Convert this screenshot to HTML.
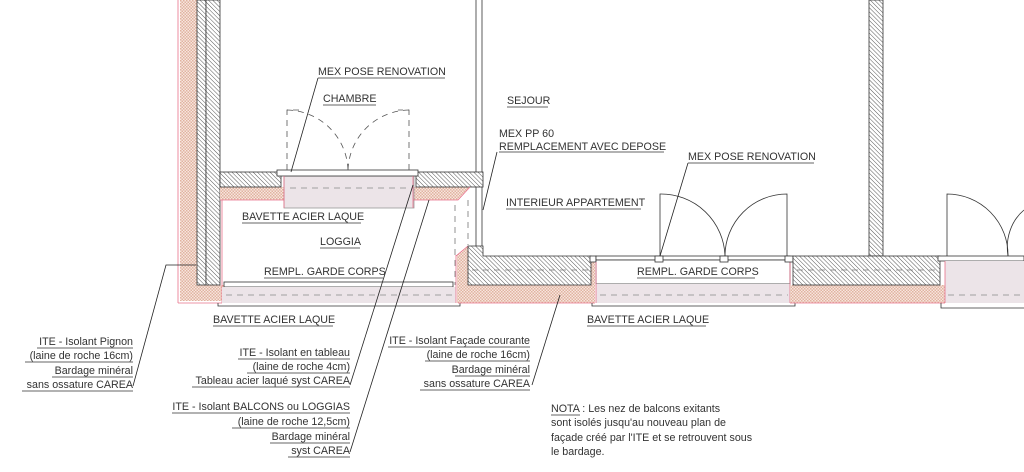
<!DOCTYPE html>
<html><head><meta charset="utf-8"><style>
html,body{margin:0;padding:0;background:#fff;}
svg{display:block;}
text{font-family:"Liberation Sans",Arial,sans-serif;font-size:10.7px;fill:#333;}
</style></head><body>
<svg width="1024" height="472" viewBox="0 0 1024 472" xmlns="http://www.w3.org/2000/svg">
<defs>
<pattern id="h" width="3" height="3" patternUnits="userSpaceOnUse" patternTransform="rotate(-45)">
<rect width="3" height="3" fill="#fff"/><line x1="0" y1="0" x2="0" y2="3" stroke="#444" stroke-width="0.9"/></pattern>
<pattern id="o" width="3" height="3" patternUnits="userSpaceOnUse">
<rect width="3" height="3" fill="#f7e6de"/><rect width="1.5" height="1.5" fill="#e0b3a0"/><rect x="1.5" y="1.5" width="1.5" height="1.5" fill="#e0b3a0"/></pattern>
</defs>
<g stroke="#333" stroke-width="0.8">
<!-- left pignon -->
<rect x="180" y="0" width="17" height="300" fill="url(#o)" stroke="none"/>
<rect x="180" y="285" width="44" height="16" fill="url(#o)" stroke="none"/>
<line x1="178" y1="0" x2="178" y2="303" stroke="#e8708a"/>
<line x1="178" y1="303" x2="222" y2="303" stroke="#e8708a"/>
<rect x="197" y="0" width="9" height="285" fill="url(#h)"/>
<rect x="206" y="0" width="14" height="285" fill="url(#h)"/>
<!-- left vertical wall interior -->
<line x1="476" y1="0" x2="476" y2="250"/><line x1="482" y1="0" x2="482" y2="250"/>
<!-- upper slab -->
<rect x="220" y="187" width="64" height="13" fill="url(#o)" stroke="none"/>
<path d="M413 187 H470 L458 200 H413 Z" fill="url(#o)" stroke="none"/>
<rect x="220" y="172" width="61" height="15" fill="url(#h)"/>
<rect x="416" y="172" width="67" height="15" fill="url(#h)"/>
<rect x="284" y="176" width="130" height="32" fill="#ece4e8" stroke="#999"/>
<line x1="290" y1="188" x2="408" y2="188" stroke="#888" stroke-dasharray="6,5"/>
<rect x="277" y="170" width="141" height="6" fill="#fff"/>
<line x1="284" y1="176" x2="284" y2="208" stroke="#e8708a"/>
<line x1="413" y1="176" x2="413" y2="208" stroke="#e8708a"/>
<path d="M220 200 H284 M413 200 H458 L470 187" stroke="#e8708a" fill="none"/>
<g stroke="#777" stroke-dasharray="6,5"><line x1="455" y1="205" x2="455" y2="285"/><line x1="468" y1="200" x2="468" y2="245"/></g>
<!-- CHAMBRE dashed doors -->
<g stroke-dasharray="6,5" fill="none" stroke="#555">
<path d="M287 170 V110 H300"/><path d="M409 170 V110 H398"/>
<path d="M287 110 A62 62 0 0 1 348 170"/><path d="M409 110 A62 62 0 0 0 348 170"/>
</g>
<!-- loggia bottom -->
<line x1="222" y1="200" x2="222" y2="303" stroke="#e8708a"/>
<rect x="224" y="282" width="229" height="5" fill="#fff"/>
<rect x="222" y="287" width="234" height="16" fill="#ece4e8" stroke="none"/>
<line x1="226" y1="295" x2="452" y2="295" stroke="#888" stroke-dasharray="6,5"/>
<path d="M218 303 V306 H460 V303" fill="none"/>
<line x1="456" y1="255" x2="456" y2="303" stroke="#e8708a"/>
<!-- right slab 1 -->
<path d="M457 255 L468 246 H476 V256 H595 V303 H457 Z" fill="url(#o)" stroke="none"/>
<path d="M456 256 L468 246" stroke="#e8708a"/>
<path d="M468 246 H483 V256 H591 V285 H468 Z" fill="url(#h)"/>
<line x1="472" y1="270" x2="588" y2="270" stroke="#777" stroke-dasharray="6,5"/>
<line x1="458" y1="303" x2="595" y2="303" stroke="#e8708a"/>
<rect x="590" y="256" width="6" height="6" fill="#fff"/>
<rect x="596" y="256" width="194" height="4" fill="#fff"/>
<rect x="596" y="260" width="194" height="24" fill="#fff"/>
<rect x="596" y="284" width="194" height="19" fill="#ece4e8" stroke="none"/>
<line x1="600" y1="295" x2="788" y2="295" stroke="#888" stroke-dasharray="6,5"/>
<path d="M592 303 V306 H795 V303" fill="none"/>
<line x1="596" y1="262" x2="596" y2="303" stroke="#e8708a"/>
<line x1="790" y1="262" x2="790" y2="303" stroke="#e8708a"/>
<!-- doors right -->
<g fill="none">
<path d="M660 256 V194 A64 64 0 0 1 725 256"/>
<path d="M787 256 V194 A62 62 0 0 0 725 256"/>
<path d="M947 256 V194 A61 61 0 0 1 1008 256"/>
<path d="M1024 210 A40 46 0 0 0 1008 256"/>
</g>
<rect x="655" y="256" width="8" height="6" fill="#fff"/><rect x="720" y="256" width="8" height="6" fill="#fff"/>
<rect x="785" y="256" width="8" height="6" fill="#fff"/>
<!-- wall right -->
<rect x="869" y="0" width="14" height="256" fill="url(#h)"/>
<rect x="790" y="285" width="155" height="18" fill="url(#o)" stroke="none"/>
<rect x="793" y="256" width="147" height="29" fill="url(#h)"/>
<line x1="797" y1="270" x2="936" y2="270" stroke="#777" stroke-dasharray="6,5"/>
<line x1="790" y1="303" x2="945" y2="303" stroke="#e8708a"/>
<rect x="938" y="256" width="86" height="5" fill="#fff"/>
<rect x="945" y="261" width="79" height="42" fill="#ece4e8" stroke="none"/>
<line x1="948" y1="295" x2="1024" y2="295" stroke="#888" stroke-dasharray="6,5"/>
<line x1="945" y1="261" x2="945" y2="303" stroke="#e8708a"/>
<path d="M941 303 V308 H1024" fill="none"/>
<!-- leaders -->
<g fill="none" stroke="#222">
<path d="M133 386 L166 265 H196"/>
<path d="M350 385 L413 185"/>
<path d="M350 452 L429 200"/>
<path d="M532 385 L560 295"/>
<path d="M318 78 L291 172"/>
<path d="M497 152 L483 210"/>
<path d="M688 163 L660 256"/>
</g>
</g>
<!-- labels -->
<g>
<text x="318" y="75">MEX POSE RENOVATION</text>
<text x="323" y="102">CHAMBRE</text>
<text x="507" y="104">SEJOUR</text>
<text x="499" y="137">MEX PP 60</text>
<text x="499" y="150">REMPLACEMENT AVEC DEPOSE</text>
<text x="688" y="160">MEX POSE RENOVATION</text>
<text x="506" y="206">INTERIEUR APPARTEMENT</text>
<text x="242" y="220">BAVETTE ACIER LAQUE</text>
<text x="320" y="245">LOGGIA</text>
<text x="264" y="275">REMPL. GARDE CORPS</text>
<text x="637" y="275">REMPL. GARDE CORPS</text>
<text x="213" y="323">BAVETTE ACIER LAQUE</text>
<text x="587" y="323">BAVETTE ACIER LAQUE</text>
<g text-anchor="end">
<text x="133" y="345">ITE - Isolant Pignon</text>
<text x="133" y="359">(laine de roche 16cm)</text>
<text x="133" y="374">Bardage minéral</text>
<text x="133" y="388">sans ossature CAREA</text>
<text x="350" y="356">ITE - Isolant en tableau</text>
<text x="350" y="370">(laine de roche 4cm)</text>
<text x="350" y="384">Tableau acier laqué syst CAREA</text>
<text x="350" y="410">ITE - Isolant BALCONS ou LOGGIAS</text>
<text x="350" y="425">(laine de roche 12,5cm)</text>
<text x="350" y="440">Bardage minéral</text>
<text x="350" y="454">syst CAREA</text>
<text x="530" y="344">ITE - Isolant Façade courante</text>
<text x="530" y="358">(laine de roche 16cm)</text>
<text x="530" y="373">Bardage minéral</text>
<text x="530" y="387">sans ossature CAREA</text>
</g>
<text x="551" y="412">NOTA : Les nez de balcons exitants</text>
<text x="551" y="426">sont isolés jusqu'au nouveau plan de</text>
<text x="551" y="441">façade créé par l'ITE et se retrouvent sous</text>
<text x="551" y="455">le bardage.</text>
</g>
<g stroke="#333" stroke-width="0.8">
<line x1="318" y1="78" x2="445" y2="78"/><line x1="323" y1="105" x2="376" y2="105"/>
<line x1="507" y1="107" x2="548" y2="107"/><line x1="499" y1="152" x2="664" y2="152"/>
<line x1="688" y1="163" x2="814" y2="163"/><line x1="506" y1="209" x2="641" y2="209"/>
<line x1="242" y1="223" x2="361" y2="223"/><line x1="320" y1="248" x2="360" y2="248"/>
<line x1="264" y1="278" x2="383" y2="278"/><line x1="637" y1="278" x2="755" y2="278"/>
<line x1="213" y1="326" x2="333" y2="326"/><line x1="587" y1="326" x2="706" y2="326"/>
<line x1="37" y1="348" x2="133" y2="348"/><line x1="25" y1="362" x2="133" y2="362"/>
<line x1="52" y1="377" x2="133" y2="377"/><line x1="22" y1="391" x2="133" y2="391"/>
<line x1="238" y1="359" x2="350" y2="359"/><line x1="247" y1="373" x2="350" y2="373"/>
<line x1="192" y1="387" x2="350" y2="387"/>
<line x1="172" y1="413" x2="350" y2="413"/><line x1="232" y1="428" x2="350" y2="428"/>
<line x1="270" y1="443" x2="350" y2="443"/><line x1="288" y1="457" x2="350" y2="457"/>
<line x1="388" y1="347" x2="530" y2="347"/><line x1="425" y1="361" x2="530" y2="361"/>
<line x1="455" y1="376" x2="530" y2="376"/><line x1="420" y1="390" x2="530" y2="390"/>
<line x1="551" y1="415" x2="580" y2="415"/>
</g>
</svg>
</body></html>
